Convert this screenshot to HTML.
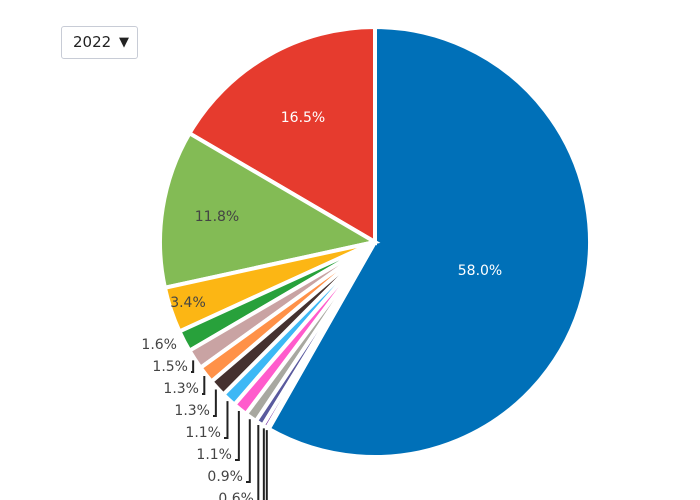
<!DOCTYPE html>
<html><head><meta charset="utf-8"><style>
body{margin:0;background:#fff;font-family:"DejaVu Sans","Liberation Sans",sans-serif;overflow:hidden}
#wrap{position:relative;width:700px;height:500px;overflow:hidden}
svg{display:block}
#dd{position:absolute;left:61px;top:26px;width:77px;height:33px;border:1px solid #c8ccd6;border-radius:3px;background:#fff;box-sizing:border-box;font-size:15px;color:#222;line-height:31px;padding-left:11px}
#dd span{position:absolute;right:8px;top:0;font-size:13px}
</style></head><body><div id="wrap">
<svg id="svg" width="700" height="500"></svg>
<div id="dd">2022<span>▼</span></div>
</div>
<script>
const labels=["A","B","C","D","E","F","G","H","I","J","K","L","M","N"];
const values=[58.0,16.5,11.8,3.4,1.6,1.5,1.3,1.3,1.1,1.1,0.9,0.6,0.35,0.15];
const printed=["58.0%","16.5%","11.8%","3.4%","1.6%","1.5%","1.3%","1.3%","1.1%","1.1%","0.9%","0.6%","",""];
const colors=["#0070b8","#e63b2e","#83bb55","#fcb614","#28a13b","#c9a3a3","#ff9148","#45312f","#3db8f5","#ff5bcc","#a8a8a0","#5a5a9e","#6a1b9a","#a0d8f0"];
const svg=document.getElementById('svg');const NS='http://www.w3.org/2000/svg';
const cx=375,cy=242,R=215;
const total=values.reduce((a,b)=>a+b,0);
function pt(a,r){return [cx+r*Math.sin(a),cy-r*Math.cos(a)];}
let angs=[];
let a0=0,a1=values[0]/total*2*Math.PI;angs.push([a0,a1]);
let cur=0;
for(let i=1;i<values.length;i++){let e=cur-values[i]/total*2*Math.PI;angs.push([e,cur]);cur=e;}
angs.forEach((g,i)=>{
 const [s,e]=g;const p1=pt(s,R),p2=pt(e,R);const large=(e-s)>Math.PI?1:0;
 const p=document.createElementNS(NS,'path');
 p.setAttribute('d',`M${cx},${cy}L${p1[0]},${p1[1]}A${R},${R} 0 ${large} 1 ${p2[0]},${p2[1]}Z`);
 p.setAttribute('fill',colors[i]);p.setAttribute('stroke','#fff');p.setAttribute('stroke-width','4');
 
 
 svg.appendChild(p);
});
const inside=[[480,270,'#fff'],[303,117,'#fff'],[217,216,'#444'],[188,302,'#444']];
for(let i=0;i<4;i++){
 const t=document.createElementNS(NS,'text');
 t.setAttribute('x',inside[i][0]);t.setAttribute('y',inside[i][1]+5);t.setAttribute('text-anchor','middle');
 t.setAttribute('font-size','14');t.setAttribute('fill',inside[i][2]);t.textContent=printed[i];
 
 
 svg.appendChild(t);
}
for(let i=4;i<values.length;i++){
 const k=i-4;const ly=344+k*22;const lx=177+k*11;
 const mid=(angs[i][0]+angs[i][1])/2;const o=pt(mid,R+2);
 if(i>4){
  const l=document.createElementNS(NS,'polyline');
  l.setAttribute('points',`${o[0]},${o[1]} ${o[0]},${ly+6} ${lx+3},${ly+6}`);
  l.setAttribute('fill','none');l.setAttribute('stroke','#222');l.setAttribute('stroke-width','2');
  
  
  svg.appendChild(l);
 }
 if(printed[i]){
  const t=document.createElementNS(NS,'text');
  t.setAttribute('x',lx);t.setAttribute('y',ly+5);t.setAttribute('text-anchor','end');
  t.setAttribute('font-size','14');t.setAttribute('fill','#444');t.textContent=printed[i];
  
  
  svg.appendChild(t);
 }
}
</script></body></html>
